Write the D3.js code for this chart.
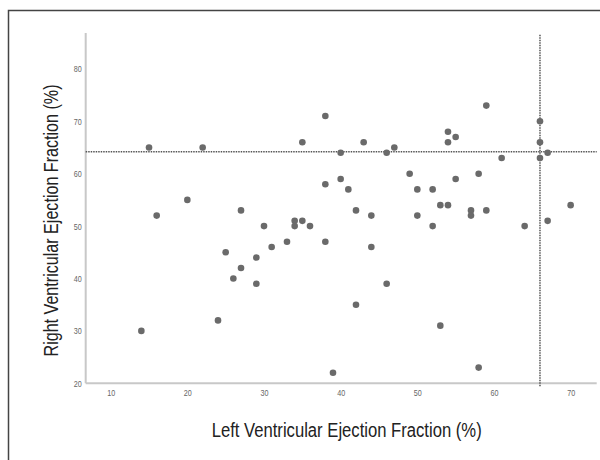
<!DOCTYPE html>
<html>
<head>
<meta charset="utf-8">
<script src="https://cdn.jsdelivr.net/npm/d3@7"></script>
<style>
  html, body { margin: 0; padding: 0; background: #fff; }
  svg { display: block; }
</style>
</head>
<body>
<svg id="chart" width="600" height="460"></svg>
<script>
// Data
const lvef = [14,15,16,20,22,24,25,26,27,27,29,29,30,31,33,34,34,35,35,36,38,38,38,39,40,40,41,42,42,43,44,44,46,46,47,49,50,50,52,52,53,53,54,54,54,55,55,57,57,58,58,59,59,61,64,66,66,66,67,67,70];
const rvef = [30,65,52,55,65,32,45,40,53,42,44,39,50,46,47,51,50,51,66,50,71,58,47,22,64,59,57,53,35,66,52,46,64,39,65,60,57,52,57,50,54,31,54,68,66,67,59,53,52,60,23,73,53,63,50,70,66,63,64,51,54];
const xTicks = [10,20,30,40,50,60,70];
const yTicks = [20,30,40,50,60,70,80];
const refX = 66;     // vertical reference line (LVEF)
const refY = 64.2;   // horizontal reference line (RVEF)
const xTitle = "Left Ventricular Ejection Fraction (%)";
const yTitle = "Right Ventricular Ejection Fraction (%)";

const svg = d3.select("#chart");

// outer frame (only top and left edges fall inside the picture)
svg.append("rect")
  .attr("x", 8.5).attr("y", 10.5)
  .attr("width", 640).attr("height", 500)
  .attr("fill", "none").attr("stroke", "#444").attr("stroke-width", 1.5);

const x = d3.scaleLinear().domain([6.74, 73.4]).range([85.7, 596.7]);
const y = d3.scaleLinear().domain([20, 86.85]).range([383.3, 33]);

const font = "'Liberation Sans Narrow', 'Arial Narrow', 'Liberation Sans', Arial, sans-serif";

// X axis
const gx = svg.append("g").attr("transform", `translate(0,${y(20)})`)
  .call(d3.axisBottom(x).tickValues(xTicks).tickSize(0).tickPadding(6));
gx.select(".domain").attr("stroke", "#c8c8c8").attr("stroke-width", 2)
  .attr("d", `M${x.range()[0]},0H${x.range()[1]}`);
gx.selectAll("text").attr("font-family", font).attr("font-size", 9.5).attr("fill", "#666")
  .attr("textLength", 8).attr("lengthAdjust", "spacingAndGlyphs");

// Y axis
const gy = svg.append("g").attr("transform", `translate(${x(6.74)},0)`)
  .call(d3.axisLeft(y).tickValues(yTicks).tickSize(0).tickPadding(4));
gy.select(".domain").attr("stroke", "#c8c8c8").attr("stroke-width", 2)
  .attr("d", `M0,${y.range()[0]}V${y.range()[1]}`);
gy.selectAll("text").attr("font-family", font).attr("font-size", 9.5).attr("fill", "#666")
  .attr("textLength", 8).attr("lengthAdjust", "spacingAndGlyphs");

// reference lines
svg.append("line")
  .attr("x1", x(6.74)).attr("x2", x(73.4))
  .attr("y1", y(refY)).attr("y2", y(refY))
  .attr("stroke", "#555").attr("stroke-width", 1.5).attr("stroke-dasharray", "1.5,1");
svg.append("line")
  .attr("x1", x(refX)).attr("x2", x(refX))
  .attr("y1", y(86.5)).attr("y2", y(20) + 3)
  .attr("stroke", "#555").attr("stroke-width", 1.5).attr("stroke-dasharray", "1.5,1");

// points
svg.append("g").selectAll("circle")
  .data(lvef.map((v, i) => [v, rvef[i]]))
  .join("circle")
  .attr("cx", d => x(d[0]))
  .attr("cy", d => y(d[1]))
  .attr("r", 3.3)
  .attr("fill", "#6a6a6a");

// axis titles
svg.append("text")
  .attr("x", 346.7).attr("y", 437)
  .attr("text-anchor", "middle")
  .attr("font-family", font).attr("font-size", 19.5).attr("fill", "#222")
  .attr("textLength", 270).attr("lengthAdjust", "spacingAndGlyphs")
  .text(xTitle);
svg.append("text")
  .attr("transform", "translate(57.5,220.5) rotate(-90)")
  .attr("text-anchor", "middle")
  .attr("font-family", font).attr("font-size", 19.5).attr("fill", "#222")
  .attr("textLength", 272).attr("lengthAdjust", "spacingAndGlyphs")
  .text(yTitle);
</script>
</body>
</html>
